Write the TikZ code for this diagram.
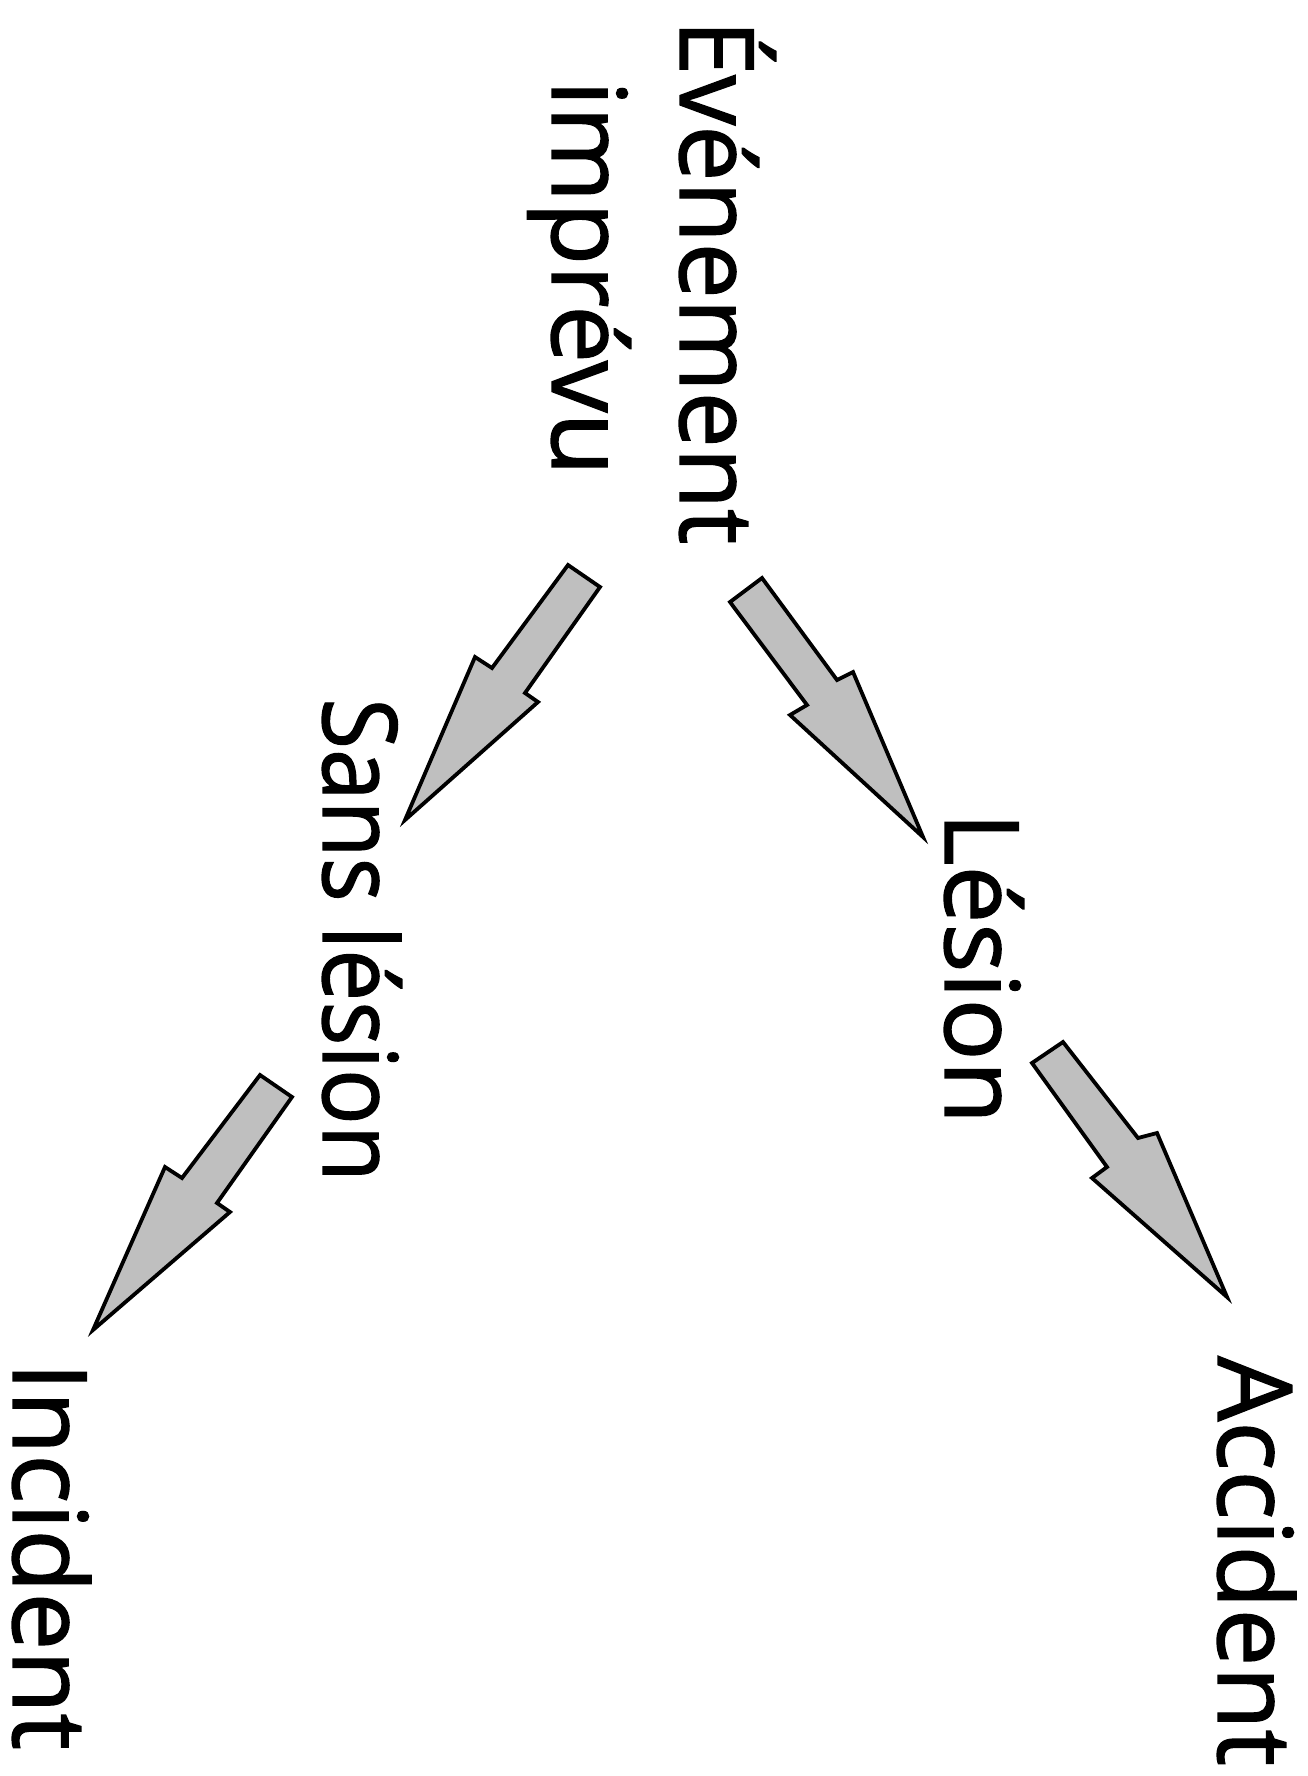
\documentclass[tikz,border=0pt]{standalone}
\usepackage{fontspec}
\newfontfamily\lblfont{Open Sans}[FakeBold=1.3]
\begin{document}
\begin{tikzpicture}[x=1pt,y=-1pt,
  lbl/.style={rotate=-90,anchor=base,inner sep=0pt,font=\lblfont\fontsize{103}{120}\selectfont},
  blockarrow/.style={draw=black,fill=black!25,line width=3.8pt,line join=miter}]
\useasboundingbox[fill=white] (0,0) rectangle (1307,1776);
% labels
\node[lbl] (evt1) at (680,282) {\scalebox{0.97}[1]{Événement}};
\node[lbl] (evt2) at (552,278) {imprévu};
\node[lbl] (lesion) at (945,968) {Lésion};
\node[lbl] (sans) at (323,940) {\scalebox{0.9}[1]{Sans lésion}};
\node[lbl] (acc) at (1218,1561) {Accident};
\node[lbl] (inc) at (13,1556) {Incident};
% block arrows
\draw[blockarrow] (730,602) -- (762,578) -- (837,680) -- (853,672) -- (923,837) -- (790,715) -- (807,705) -- cycle;
\draw[blockarrow] (568,565) -- (600,587) -- (525,693) -- (538,702) -- (405,820) -- (475,657) -- (492,668) -- cycle;
\draw[blockarrow] (1032,1063) -- (1063,1042) -- (1138,1138) -- (1157,1133) -- (1227,1297) -- (1092,1178) -- (1107,1167) -- cycle;
\draw[blockarrow] (260,1075) -- (292,1097) -- (217,1203) -- (230,1212) -- (93,1330) -- (165,1167) -- (182,1178) -- cycle;
\end{tikzpicture}
\end{document}
